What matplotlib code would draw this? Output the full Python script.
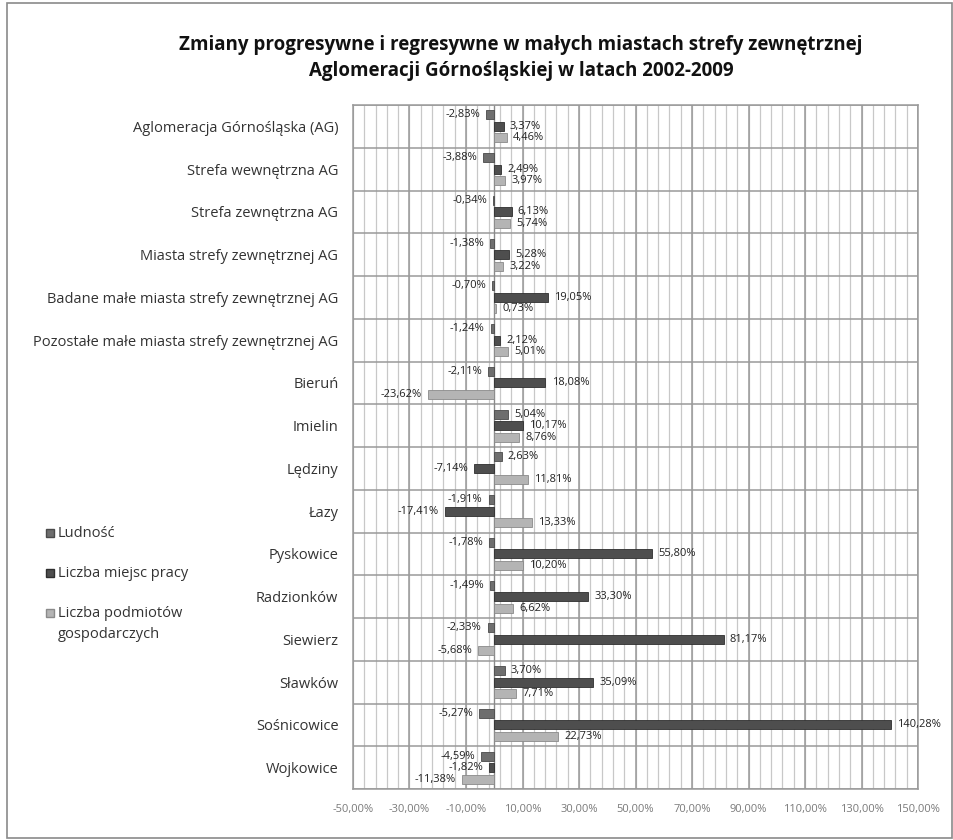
#!/usr/bin/env python3
"""Horizontal grouped bars: changes 2002-2009 in small towns of the GOP outer zone."""

import matplotlib
matplotlib.use("Agg")
import matplotlib.pyplot as plt
import numpy as np
from matplotlib.lines import Line2D
from matplotlib.patches import Rectangle

FONT = ["Open Sans", "DejaVu Sans"]
plt.rcParams["font.family"] = FONT

categories = [
    "Aglomeracja Górnośląska (AG)",
    "Strefa wewnętrzna AG",
    "Strefa zewnętrzna AG",
    "Miasta strefy zewnętrznej AG",
    "Badane małe miasta strefy zewnętrznej AG",
    "Pozostałe małe miasta strefy zewnętrznej AG",
    "Bieruń",
    "Imielin",
    "Lędziny",
    "Łazy",
    "Pyskowice",
    "Radzionków",
    "Siewierz",
    "Sławków",
    "Sośnicowice",
    "Wojkowice",
]
ludnosc = [-2.83, -3.88, -0.34, -1.38, -0.70, -1.24, -2.11, 5.04,
           2.63, -1.91, -1.78, -1.49, -2.33, 3.70, -5.27, -4.59]
miejsca_pracy = [3.37, 2.49, 6.13, 5.28, 19.05, 2.12, 18.08, 10.17,
                 -7.14, -17.41, 55.80, 33.30, 81.17, 35.09, 140.28, -1.82]
podmioty = [4.46, 3.97, 5.74, 3.22, 0.73, 5.01, -23.62, 8.76,
            11.81, 13.33, 10.20, 6.62, -5.68, 7.71, 22.73, -11.38]
series_names = ["Ludność", "Liczba miejsc pracy", "Liczba podmiotów\ngospodarczych"]
x_ticks = list(range(-50, 151, 20))


def pct(v):
    return f"{v:.2f}%".replace(".", ",")


fig = plt.figure(figsize=(9.54, 8.4), dpi=100)
ax = fig.add_axes([353 / 954, 1 - 789 / 840, (918 - 353) / 954, (789 - 105) / 840])

n = len(categories)
y = np.arange(n)
offsets = [-0.27, 0.0, 0.27]
colors = ["#6e6e6e", "#4e4e4e", "#b4b4b4"]
edges = ["#4a4a4a", "#2e2e2e", "#8a8a8a"]
all_series = [ludnosc, miejsca_pracy, podmioty]

# grid: light every 4 %, darker at the labelled ticks
for gx in np.arange(-50, 151, 4):
    ax.axvline(gx, color="#c8c8c8", lw=0.9, zorder=0)
for gx in x_ticks:
    ax.axvline(gx, color="#9a9a9a", lw=1.1, zorder=0)
for gy in np.arange(-0.5, n, 1.0):
    ax.axhline(gy, color="#9a9a9a", lw=1.1, zorder=0)
ax.axvline(0, color="#8a8a8a", lw=1.0, zorder=1)

for vals, off, col, ec in zip(all_series, offsets, colors, edges):
    ax.barh(y + off, vals, height=0.21, color=col, edgecolor=ec, lw=0.6, zorder=3)
    for yi, v in zip(y, vals):
        pad = 2.2
        ax.text(v + pad if v >= 0 else v - pad, yi + off, pct(v),
                ha="left" if v >= 0 else "right", va="center",
                fontsize=8, color="#222222", zorder=4)

ax.set_xlim(-50, 150)
ax.set_ylim(n - 0.5, -0.5)
ax.set_xticks(x_ticks)
ax.set_xticklabels([pct(t) for t in x_ticks], fontsize=8, color="#7a7a7a")
ax.set_yticks(y)
ax.set_yticklabels(categories, fontsize=10.5, color="#333333")
ax.tick_params(axis="both", length=0)
ax.tick_params(axis="x", pad=11)
ax.tick_params(axis="y", pad=10.5)
for s in ax.spines.values():
    s.set_color("#9a9a9a")
    s.set_linewidth(1.1)

fig.text(521 / 954, 1 - 58 / 840,
         "Zmiany progresywne i regresywne w małych miastach strefy zewnętrznej\n"
         "Aglomeracji Górnośląskiej w latach 2002-2009",
         ha="center", va="center", fontsize=13.5, fontweight="bold",
         color="#111111", linespacing=1.35)

# legend on the left, marker aligned with the first line of each entry
legend_rows = [533, 573, 613]
for name, col, ec, row in zip(series_names, colors, edges, legend_rows):
    fig.add_artist(Line2D([50 / 954], [1 - row / 840], marker="s", ls="none",
                          markersize=6, markerfacecolor=col, markeredgecolor=ec,
                          transform=fig.transFigure))
    fig.text(58 / 954, 1 - (row - 7) / 840, name, ha="left", va="top",
             fontsize=10.5, color="#333333", linespacing=1.5)

fig.add_artist(Rectangle((7 / 954, 2 / 840), 945 / 954, 835 / 840,
                         transform=fig.transFigure, fill=False,
                         edgecolor="#8a8a8a", lw=1.2))

fig.savefig("out.png", dpi=100)
plt.close(fig)
